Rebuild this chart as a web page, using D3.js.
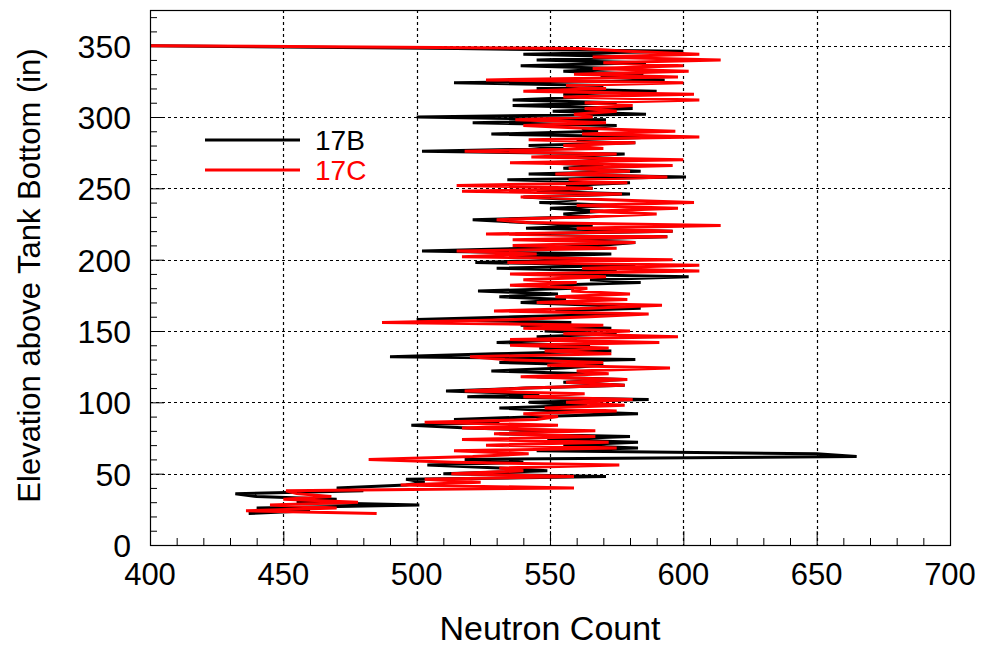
<!DOCTYPE html>
<html>
<head>
<meta charset="utf-8">
<script src="https://cdn.jsdelivr.net/npm/d3@7"></script>
<style>
  body { margin: 0; background: #fff; }
  text { font-family: "Liberation Sans", Arial, sans-serif; }
</style>
</head>
<body>
<div id="chart"></div>
<script>
// elevation above tank bottom (in), one reading every 2 in
const elevation = [
  22, 24, 26, 28, 30, 32, 34, 36, 38, 40,
  42, 44, 46, 48, 50, 52, 54, 56, 58, 60,
  62, 64, 66, 68, 70, 72, 74, 76, 78, 80,
  82, 84, 86, 88, 90, 92, 94, 96, 98, 100,
  102, 104, 106, 108, 110, 112, 114, 116, 118, 120,
  122, 124, 126, 128, 130, 132, 134, 136, 138, 140,
  142, 144, 146, 148, 150, 152, 154, 156, 158, 160,
  162, 164, 166, 168, 170, 172, 174, 176, 178, 180,
  182, 184, 186, 188, 190, 192, 194, 196, 198, 200,
  202, 204, 206, 208, 210, 212, 214, 216, 218, 220,
  222, 224, 226, 228, 230, 232, 234, 236, 238, 240,
  242, 244, 246, 248, 250, 252, 254, 256, 258, 260,
  262, 264, 266, 268, 270, 272, 274, 276, 278, 280,
  282, 284, 286, 288, 290, 292, 294, 296, 298, 300,
  302, 304, 306, 308, 310, 312, 314, 316, 318, 320,
  322, 324, 326, 328, 330, 332, 334, 336, 338, 340,
  342, 344, 346, 348, 350
];

// neutron counts, riser 17B
const count17B = [
  437, 460, 440, 501, 455, 470, 440, 432, 480, 470,
  496, 503, 496, 571, 510, 549, 531, 504, 540, 518,
  665, 650, 545, 583, 555, 583, 549, 580, 531, 556,
  519, 498, 531, 514, 546, 583, 553, 531, 564, 542,
  587, 519, 546, 511, 541, 578, 555, 578, 545, 564,
  528, 555, 570, 531, 582, 490, 529, 573, 546, 565,
  530, 560, 545, 575, 548, 573, 539, 558, 500, 537,
  580, 552, 584, 567, 539, 556, 531, 553, 523, 559,
  550, 584, 565, 602, 545, 575, 530, 582, 522, 560,
  536, 573, 502, 542, 568, 582, 550, 594, 537, 596,
  541, 566, 540, 521, 565, 555, 570, 550, 575, 546,
  560, 540, 580, 545, 566, 556, 580, 534, 601, 542,
  584, 555, 570, 548, 581, 555, 578, 502, 555, 542,
  582, 560, 590, 528, 568, 562, 575, 521, 571, 500,
  586, 551, 581, 536, 575, 536, 564, 555, 590, 545,
  570, 514, 593, 569, 585, 555, 575, 539, 586, 545,
  585, 540, 600, 515, 400
];

// neutron counts, riser 17C
const count17C = [
  485, 436, 470, 445, 478, 450, 468, 455, 451, 559,
  494, 524, 503, 559, 513, 540, 531, 576, 514, 482,
  521, 542, 514, 575, 526, 572, 517, 567, 529, 567,
  517, 553, 503, 545, 553, 540, 575, 548, 578, 556,
  581, 540, 563, 518, 541, 578, 556, 579, 539, 572,
  560, 595, 549, 570, 533, 520, 573, 548, 572, 535,
  591, 535, 598, 555, 580, 540, 570, 487, 537, 565,
  587, 529, 565, 592, 545, 579, 552, 580, 558, 564,
  535, 560, 540, 571, 535, 606, 562, 606, 534, 596,
  517, 545, 515, 575, 536, 582, 536, 594, 526, 596,
  560, 614, 541, 530, 565, 590, 565, 598, 560, 604,
  572, 539, 577, 517, 566, 515, 579, 557, 594, 552,
  580, 557, 596, 535, 600, 543, 575, 518, 570, 555,
  582, 542, 606, 562, 597, 565, 540, 571, 537, 566,
  559, 575, 563, 581, 563, 606, 555, 604, 540, 571,
  556, 600, 526, 598, 559, 602, 566, 600, 570, 614,
  566, 606, 579, 561, 400
];

const series = [
  { id: "17B", color: "#000000", values: count17B },
  { id: "17C", color: "#ff0000", values: count17C }
];

const xTicks = [400, 450, 500, 550, 600, 650, 700];
const yTicks = [0, 50, 100, 150, 200, 250, 300, 350];

const width = 984, height = 648;
const margin = { top: 10, right: 34, bottom: 103, left: 150 };
const w = width - margin.left - margin.right;
const h = height - margin.top - margin.bottom;

const svg = d3.select("#chart").append("svg")
  .attr("width", width)
  .attr("height", height);

const x = d3.scaleLinear().domain([400, 700]).range([0, w]);
const y = d3.scaleLinear().domain([0, 375]).range([h, 0]);

const g = svg.append("g")
  .attr("transform", `translate(${margin.left},${margin.top})`);

svg.append("defs").append("clipPath").attr("id", "plotclip")
  .append("rect").attr("width", w).attr("height", h);

// dashed grid
g.append("g").selectAll("line")
  .data(xTicks.slice(1, -1))
  .enter().append("line")
  .attr("x1", d => Math.round(x(d)) + 0.5).attr("x2", d => Math.round(x(d)) + 0.5)
  .attr("y1", 0).attr("y2", h)
  .attr("stroke", "#000").attr("stroke-width", 1.2)
  .attr("stroke-dasharray", "3,3");

g.append("g").selectAll("line")
  .data(yTicks.slice(1))
  .enter().append("line")
  .attr("y1", d => Math.round(y(d)) + 0.5).attr("y2", d => Math.round(y(d)) + 0.5)
  .attr("x1", 0).attr("x2", w)
  .attr("stroke", "#000").attr("stroke-width", 1.2)
  .attr("stroke-dasharray", "3,3");

// axes, ticks pointing inward
const xAxis = g.append("g")
  .attr("transform", `translate(0,${h})`)
  .call(d3.axisBottom(x).tickValues(d3.range(400, 701, 10)).tickSize(-7).tickFormat(""));
xAxis.selectAll(".tick line").filter(d => d % 50 === 0).attr("y2", -14);

const yAxis = g.append("g")
  .call(d3.axisLeft(y).tickValues(d3.range(0, 371, 10)).tickSize(-7).tickFormat(""));
yAxis.selectAll(".tick line").filter(d => d % 50 === 0).attr("x2", 14);

g.selectAll(".domain").remove();

g.append("g").selectAll("text")
  .data(xTicks)
  .enter().append("text")
  .attr("x", d => x(d))
  .attr("y", h + 40)
  .attr("text-anchor", "middle")
  .style("font-size", "31px")
  .text(d => d);

g.append("g").selectAll("text")
  .data(yTicks)
  .enter().append("text")
  .attr("x", -19)
  .attr("y", d => y(d) + 12)
  .attr("text-anchor", "end")
  .style("font-size", "32px")
  .text(d => d);

// data lines
const line = d3.line()
  .x(d => x(d[0]))
  .y(d => y(d[1]));

g.append("g").attr("clip-path", "url(#plotclip)")
  .selectAll("path")
  .data(series)
  .enter().append("path")
  .attr("d", s => line(s.values.map((v, i) => [v, elevation[i]])))
  .attr("fill", "none")
  .attr("stroke", s => s.color)
  .attr("stroke-width", 3)
  .attr("stroke-linejoin", "miter")
  .attr("stroke-miterlimit", 2);

// frame
g.append("rect")
  .attr("x", 0.5).attr("y", 0.5)
  .attr("width", w).attr("height", h)
  .attr("fill", "none").attr("stroke", "#000").attr("stroke-width", 1.2);

// legend
const legend = g.append("g").attr("transform", "translate(55,130)");
legend.selectAll("line")
  .data(series)
  .enter().append("line")
  .attr("x1", 0).attr("x2", 95)
  .attr("y1", (d, i) => i * 30).attr("y2", (d, i) => i * 30)
  .attr("stroke", d => d.color).attr("stroke-width", 3);
legend.selectAll("text")
  .data(series)
  .enter().append("text")
  .attr("x", 110)
  .attr("y", (d, i) => i * 30 + 10)
  .attr("fill", d => d.color)
  .style("font-size", "28px")
  .text(d => d.id);

// axis titles
svg.append("text")
  .attr("x", margin.left + w / 2)
  .attr("y", 640)
  .attr("text-anchor", "middle")
  .style("font-size", "34px")
  .text("Neutron Count");

svg.append("text")
  .attr("transform", `translate(40,${margin.top + h / 2 - 2}) rotate(-90)`)
  .attr("text-anchor", "middle")
  .style("font-size", "31px")
  .text("Elevation above Tank Bottom (in)");
</script>
</body>
</html>
